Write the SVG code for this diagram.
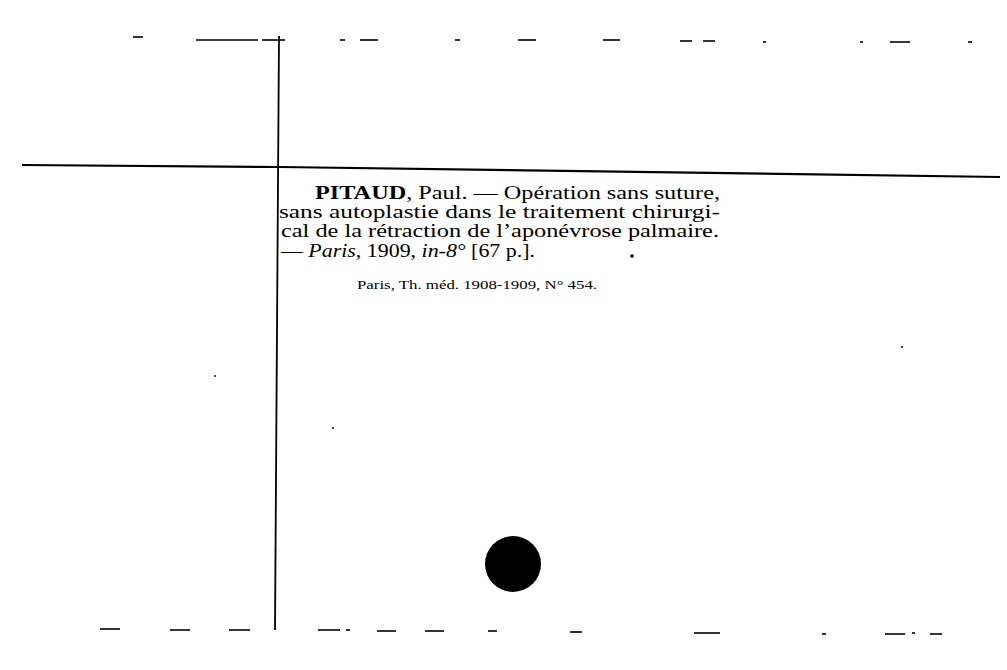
<svg xmlns="http://www.w3.org/2000/svg" width="1007" height="670" viewBox="0 0 1007 670">
<style>
.ln{stroke:#000;fill:none;stroke-linecap:butt}
.d{stroke:#000;stroke-width:1.6}
.t{font-family:"Liberation Serif","DejaVu Serif",serif;fill:#000;font-size:18px}
.s{font-family:"Liberation Serif","DejaVu Serif",serif;fill:#000;font-size:12px}
</style>
<rect width="1007" height="670" fill="#fff"/>
<g id="frame">
<path class="ln" d="M279 36 L277 330 L275 630" stroke-width="1.8"/>
<path class="ln" d="M22 165 L280 167 L1000 177" stroke-width="2.2"/>
</g>
<g id="dashes">
<line class="d" x1="133" y1="37" x2="143" y2="37"/>
<line class="d" x1="196" y1="40" x2="258" y2="40"/>
<line class="d" x1="262" y1="40" x2="285" y2="40"/>
<line class="d" x1="340" y1="40" x2="345" y2="40"/>
<line class="d" x1="360" y1="40" x2="378" y2="40"/>
<line class="d" x1="455" y1="40" x2="460" y2="40"/>
<line class="d" x1="518" y1="40" x2="536" y2="40"/>
<line class="d" x1="603" y1="40" x2="620" y2="40"/>
<line class="d" x1="680" y1="41" x2="692" y2="41"/>
<line class="d" x1="703" y1="41" x2="715" y2="41"/>
<line class="d" x1="763" y1="42" x2="766" y2="42"/>
<line class="d" x1="860" y1="42" x2="863" y2="42"/>
<line class="d" x1="890" y1="42" x2="910" y2="42"/>
<line class="d" x1="968" y1="42" x2="972" y2="42"/>
<line class="d" x1="100" y1="629" x2="120" y2="629"/>
<line class="d" x1="170" y1="630" x2="190" y2="630"/>
<line class="d" x1="229" y1="630" x2="250" y2="630"/>
<line class="d" x1="318" y1="630" x2="340" y2="630"/>
<line class="d" x1="346" y1="630" x2="350" y2="630"/>
<line class="d" x1="377" y1="631" x2="396" y2="631"/>
<line class="d" x1="425" y1="631" x2="444" y2="631"/>
<line class="d" x1="488" y1="631" x2="497" y2="631"/>
<line class="d" x1="570" y1="632" x2="582" y2="632"/>
<line class="d" x1="694" y1="633" x2="720" y2="633"/>
<line class="d" x1="822" y1="634" x2="826" y2="634"/>
<line class="d" x1="885" y1="634" x2="905" y2="634"/>
<line class="d" x1="912" y1="633" x2="915" y2="633"/>
<line class="d" x1="930" y1="634" x2="942" y2="634"/>
</g>
<g id="entry">
<text class="t" x="315" y="199" textLength="405" lengthAdjust="spacingAndGlyphs"><tspan font-weight="bold">PITAUD</tspan>, Paul. — Opération sans suture,</text>
<text class="t" x="279" y="218" textLength="441" lengthAdjust="spacingAndGlyphs">sans autoplastie dans le traitement chirurgi-</text>
<text class="t" x="281" y="237" textLength="438" lengthAdjust="spacingAndGlyphs">cal de la rétraction de l’aponévrose palmaire.</text>
<text class="t" x="281" y="257" textLength="254" lengthAdjust="spacingAndGlyphs">— <tspan font-style="italic">Paris</tspan>, 1909, <tspan font-style="italic">in-8°</tspan> [67 p.].</text>
<text class="s" x="357" y="289" textLength="240" lengthAdjust="spacingAndGlyphs">Paris, Th. méd. 1908-1909, N° 454.</text>
</g>
<g id="marks">
<circle cx="513" cy="564" r="28" fill="#000"/>
<circle cx="632" cy="256" r="1.8" fill="#000"/>
<circle cx="215" cy="376" r="1" fill="#000"/>
<circle cx="333" cy="428" r="1" fill="#000"/>
<circle cx="902" cy="347" r="1" fill="#000"/>
</g>
</svg>
